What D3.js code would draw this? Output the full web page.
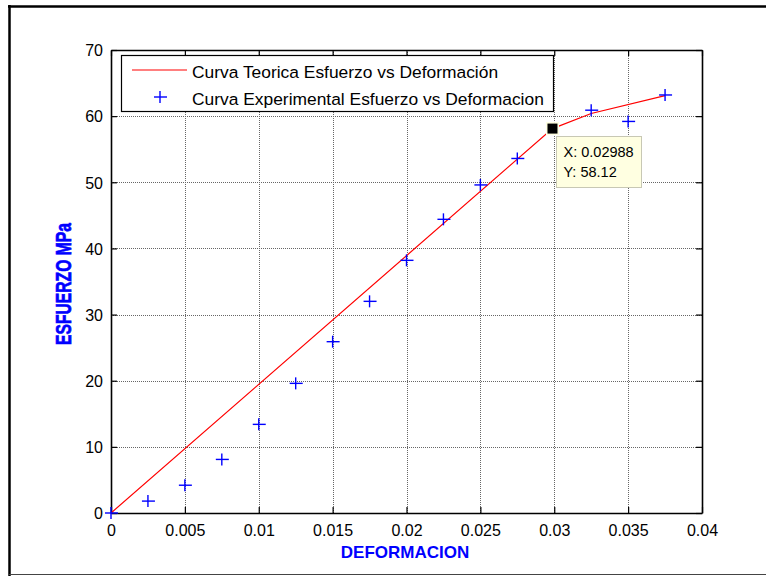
<!DOCTYPE html>
<html>
<head>
<meta charset="utf-8">
<script src="https://cdn.jsdelivr.net/npm/d3@7"></script>
<style>
  html, body { margin: 0; padding: 0; background: #fff; }
  svg { display: block; font-family: "Liberation Sans", Arial, sans-serif; }
</style>
</head>
<body>
<svg id="chart" width="766" height="576"></svg>
<script>
// ---- Data ----
const expStrain = [0, 0.0025, 0.005, 0.0075, 0.01, 0.0125, 0.015, 0.0175, 0.02, 0.0225, 0.025, 0.0275, 0.0325, 0.035, 0.0375];
const expStress = [0, 1.8, 4.2, 8.1, 13.4, 19.6, 25.9, 32.0, 38.2, 44.4, 49.6, 53.6, 60.9, 59.2, 63.2];
const theoStrain = [0, 0.02988, 0.0325, 0.0375];
const theoStress = [0, 58.12, 60.4, 63.1];
const xTicks = [0, 0.005, 0.01, 0.015, 0.02, 0.025, 0.03, 0.035, 0.04];
const yTicks = [0, 10, 20, 30, 40, 50, 60, 70];
const legendLabels = ["Curva Teorica Esfuerzo vs Deformación", "Curva Experimental Esfuerzo vs Deformacion"];
const tipPoint = { x: 0.02988, y: 58.12 };

(function () {
const svg = d3.select("#chart");
const L = 111, R = 702, T = 50, B = 513;
const x = d3.scaleLinear().domain([0, 0.04]).range([L, R]);
const y = d3.scaleLinear().domain([0, 70]).range([B, T]);

// Outer figure border
svg.append("line").attr("x1", 9.5).attr("x2", 9.5).attr("y1", 5).attr("y2", 576).attr("stroke", "#000").attr("stroke-width", 2.5);
svg.append("line").attr("x1", 8).attr("x2", 766).attr("y1", 6.5).attr("y2", 6.5).attr("stroke", "#000").attr("stroke-width", 2.5);
svg.append("line").attr("x1", 8).attr("x2", 766).attr("y1", 574.5).attr("y2", 574.5).attr("stroke", "#444").attr("stroke-width", 1.2);

// Plot background
svg.append("rect").attr("x", L).attr("y", T).attr("width", R - L).attr("height", B - T).attr("fill", "#fff");

// Grid
const grid = svg.append("g").attr("stroke", "#666").attr("stroke-width", 1).attr("stroke-dasharray", "1,1");
grid.selectAll(".gx").data(xTicks.slice(1, -1)).join("line")
  .attr("x1", d => Math.round(x(d)) + 0.5).attr("x2", d => Math.round(x(d)) + 0.5)
  .attr("y1", T).attr("y2", B);
grid.selectAll(".gy").data(yTicks.slice(1, -1)).join("line")
  .attr("y1", d => Math.round(y(d)) + 0.5).attr("y2", d => Math.round(y(d)) + 0.5)
  .attr("x1", L).attr("x2", R);

// Axes (ticks inward on all sides)
const fmtX = d => d === 0 ? "0" : String(+d.toFixed(3));
const axB = svg.append("g").attr("transform", `translate(0,${B})`)
  .call(d3.axisBottom(x).tickValues(xTicks).tickSizeInner(-6).tickSizeOuter(0).tickPadding(12).tickFormat(fmtX));
const axT = svg.append("g").attr("transform", `translate(0,${T})`)
  .call(d3.axisTop(x).tickValues(xTicks).tickSizeInner(-6).tickSizeOuter(0).tickFormat(""));
const axL = svg.append("g").attr("transform", `translate(${L},0)`)
  .call(d3.axisLeft(y).tickValues(yTicks).tickSizeInner(-6).tickSizeOuter(0).tickPadding(8));
const axR = svg.append("g").attr("transform", `translate(${R},0)`)
  .call(d3.axisRight(y).tickValues(yTicks).tickSizeInner(-6).tickSizeOuter(0).tickFormat(""));
[axB, axT, axL, axR].forEach(g => {
  g.select(".domain").attr("stroke", "#000").attr("stroke-width", 1.6);
  g.selectAll(".tick line").attr("stroke", "#000").attr("stroke-width", 1.2);
  g.selectAll(".tick text").attr("fill", "#000").attr("font-size", 16).attr("font-family", "Liberation Sans, Arial, sans-serif");
});
axL.selectAll(".tick text").attr("dy", "0.36em");

// Theoretical curve
const line = d3.line().x(d => x(d[0])).y(d => y(d[1]));
svg.append("path").datum(theoStrain.map((s, i) => [s, theoStress[i]]))
  .attr("d", line).attr("fill", "none").attr("stroke", "#ff0000").attr("stroke-width", 1.2);

// Experimental markers
function plus(g) {
  g.append("line").attr("x1", -6).attr("x2", 7).attr("y1", 0).attr("y2", 0);
  g.append("line").attr("x1", 0).attr("x2", 0).attr("y1", -6).attr("y2", 6);
}
const mk = svg.append("g").attr("stroke", "#0000ff").attr("stroke-width", 1.4);
expStrain.forEach((s, i) => {
  const g = mk.append("g").attr("transform", `translate(${x(s)},${y(expStress[i])})`);
  plus(g);
});

// Legend
const lg = svg.append("g");
lg.append("rect").attr("x", 121.5).attr("y", 55.5).attr("width", 432).attr("height", 56)
  .attr("fill", "#fff").attr("stroke", "#000").attr("stroke-width", 1.2);
lg.append("line").attr("x1", 132).attr("x2", 187).attr("y1", 70).attr("y2", 70).attr("stroke", "#ff0000").attr("stroke-width", 1.2);
const lm = lg.append("g").attr("transform", "translate(160,97)").attr("stroke", "#0000ff").attr("stroke-width", 1.4);
plus(lm);
lg.selectAll("text.leg").data(legendLabels).join("text")
  .attr("class", "leg")
  .attr("x", 192).attr("y", (d, i) => 77.5 + i * 27)
  .attr("font-size", 17.4).attr("fill", "#000")
  .text(d => d);

// Axis labels
svg.append("text").attr("x", 405).attr("y", 557.5).attr("text-anchor", "middle")
  .attr("font-size", 17).attr("font-weight", "bold").attr("fill", "#0000ff").text("DEFORMACION");
svg.append("text").attr("transform", "translate(71,284) rotate(-90)").attr("text-anchor", "middle")
  .attr("font-family", "'Liberation Sans Narrow', 'Liberation Sans', Arial, sans-serif")
  .attr("font-size", 22.5).attr("font-weight", "bold").attr("fill", "#0000ff")
  .attr("stroke", "#0000ff").attr("stroke-width", 0.7)
  .attr("textLength", 122).attr("lengthAdjust", "spacingAndGlyphs").text("ESFUERZO MPa");

// Data tip
const tx = x(tipPoint.x), ty = y(tipPoint.y);
svg.append("rect").attr("x", 556.5).attr("y", 136.5).attr("width", 85).attr("height", 51)
  .attr("fill", "#ffffe1").attr("stroke", "#c8c8b4").attr("stroke-width", 1);
svg.append("rect").attr("x", tx - 6.5).attr("y", ty - 6.5).attr("width", 13).attr("height", 13)
  .attr("fill", "#ffffe1");
svg.append("rect").attr("x", tx - 5).attr("y", ty - 5).attr("width", 10).attr("height", 10)
  .attr("fill", "#000");
svg.append("text").attr("x", 563.5).attr("y", 157).attr("font-size", 14.5).attr("fill", "#000")
  .text("X: " + tipPoint.x);
svg.append("text").attr("x", 563.5).attr("y", 177).attr("font-size", 14.5).attr("fill", "#000")
  .text("Y: " + tipPoint.y);
})();
</script>
</body>
</html>
